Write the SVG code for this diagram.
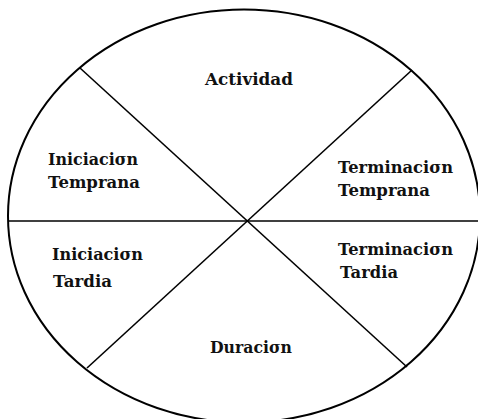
<svg xmlns="http://www.w3.org/2000/svg" width="478" height="419" viewBox="0 0 478 419">
<style>
.t{font-family:"DejaVu Serif","Liberation Serif",serif;font-weight:bold;font-size:17px;fill:#111}
.ln{stroke:#000;stroke-width:1.6;fill:none}
</style>
<rect width="478" height="419" fill="#fff"/>
<g id="circle"><ellipse cx="244" cy="216" rx="236" ry="206.5" fill="none" stroke="#000" stroke-width="2"/></g>
<g id="connectors" class="ln">
<line x1="8" y1="221" x2="478" y2="221"/>
<line x1="80" y1="68" x2="407" y2="367"/>
<line x1="412" y1="70" x2="87" y2="368"/>
</g>
<g id="actividad"><text class="t" x="205" y="85" textLength="88" lengthAdjust="spacingAndGlyphs">Actividad</text></g>
<g id="iniciacion-temprana">
<text class="t" x="48" y="165" textLength="90" lengthAdjust="spacingAndGlyphs">Iniciaciσn</text>
<text class="t" x="48" y="188" textLength="92" lengthAdjust="spacingAndGlyphs">Temprana</text>
</g>
<g id="terminacion-temprana">
<text class="t" x="338" y="173" textLength="115" lengthAdjust="spacingAndGlyphs">Terminaciσn</text>
<text class="t" x="338" y="196" textLength="92" lengthAdjust="spacingAndGlyphs">Temprana</text>
</g>
<g id="iniciacion-tardia">
<text class="t" x="52" y="260" textLength="91" lengthAdjust="spacingAndGlyphs">Iniciaciσn</text>
<text class="t" x="53" y="287" textLength="59" lengthAdjust="spacingAndGlyphs">Tardia</text>
</g>
<g id="terminacion-tardia">
<text class="t" x="338" y="255" textLength="115" lengthAdjust="spacingAndGlyphs">Terminaciσn</text>
<text class="t" x="340" y="278" textLength="58" lengthAdjust="spacingAndGlyphs">Tardia</text>
</g>
<g id="duracion"><text class="t" x="210" y="353" textLength="82" lengthAdjust="spacingAndGlyphs">Duraciσn</text></g>
</svg>
